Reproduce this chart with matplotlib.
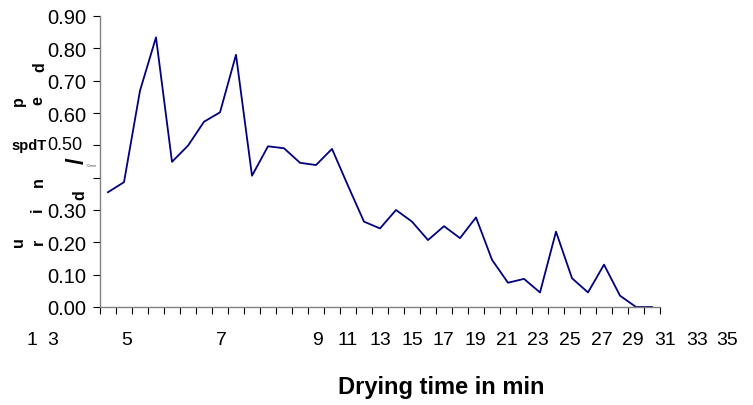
import matplotlib
matplotlib.use("Agg")
import matplotlib.pyplot as plt
import matplotlib.transforms as mtransforms

# minutes 1..35 (category axis)
minutes = list(range(1, 36))
rate = [0.355, 0.386, 0.669, 0.834, 0.449, 0.499, 0.573, 0.602, 0.780, 0.406,
        0.497, 0.491, 0.446, 0.439, 0.489, 0.375, 0.264, 0.243, 0.300, 0.264,
        0.207, 0.250, 0.213, 0.277, 0.146, 0.075, 0.087, 0.045, 0.233, 0.089,
        0.045, 0.131, 0.035, 0.0, 0.0]

ytick_vals = [0.0, 0.1, 0.2, 0.3, 0.4, 0.5, 0.6, 0.7, 0.8, 0.9]
ytick_text = ["0.00", "0.10", "0.20", "0.30", "", "", "0.60", "0.70", "0.80", "0.90"]

# x labels as they come out in the source (shifted, not under the ticks)
xlab_text = ["1", "3", "5", "7", "9", "11", "13", "15", "17", "19", "21", "23",
             "25", "27", "29", "31", "33", "35"]
xlab_pos = [-3.75, -2.44, 2.19, 8.12, 14.12, 16.0, 18.0, 20.0, 21.94, 23.94,
            25.94, 27.88, 29.88, 31.88, 33.81, 35.81, 37.81, 39.69]

# scrambled y-axis title letters (char, x px, y px)
ylab_bits = [("d", 40, 67), ("e", 38, 101), ("p", 18, 101), ("n", 38, 182),
             ("i", 37, 210), ("r", 38, 242), ("u", 18, 242), ("d", 80, 195)]

W, H = 753, 406
sans = ["Liberation Sans", "DejaVu Sans"]

fig = plt.figure(figsize=(W / 100, H / 100), dpi=100)
ax = fig.add_axes([100 / W, 98 / H, 560 / W, 291 / H])

ax.plot(minutes, rate, color="#000080", linewidth=1.3)

ax.set_xlim(0.5, 35.5)
ax.set_ylim(0, 0.9)

for s in ["top", "right"]:
    ax.spines[s].set_visible(False)
for s in ["left", "bottom"]:
    ax.spines[s].set_color("#808080")
    ax.spines[s].set_linewidth(1.0)

ax.set_xticks([m - 0.5 for m in minutes] + [35.5])
ax.set_xticklabels([])
ax.tick_params(axis="x", direction="out", length=5, width=0.8, color="black")

ax.set_yticks(ytick_vals)
ax.set_yticklabels(ytick_text, fontfamily=sans, fontsize=14.5)
ax.tick_params(axis="y", direction="out", length=5, width=0.8, color="black", pad=5)

trans = mtransforms.blended_transform_factory(ax.transData, fig.transFigure)
for t, p in zip(xlab_text, xlab_pos):
    ax.text(p, 1 - 341 / H, t, transform=trans, ha="center", va="center",
            fontsize=14, fontfamily=sans, clip_on=False)

fig.text(441 / W, 1 - 388 / H, "Drying time in min", ha="center", va="center",
         fontsize=17, fontweight="bold", fontfamily=sans)

# odd bits on the y side
fig.text(82 / W, 1 - 146 / H, "0.50", ha="right", va="center",
         fontsize=13, fontfamily=sans)
fig.text(47 / W, 1 - 146 / H, "spdT", ha="right", va="center",
         fontsize=10.5, fontweight="bold", fontfamily=sans)
fig.text(77 / W, 1 - 161 / H, "/", ha="center", va="center", rotation=90,
         fontsize=17, fontweight="bold", fontfamily=sans)
fig.text(92 / W, 1 - 166 / H, "%/min", ha="center", va="center",
         fontsize=3, fontfamily=sans, color="#555555")
for ch, px, py in ylab_bits:
    fig.text(px / W, 1 - py / H, ch, ha="center", va="center", rotation=90,
             fontsize=11.5, fontweight="bold", fontfamily=sans)

fig.savefig("out.png", dpi=100)
